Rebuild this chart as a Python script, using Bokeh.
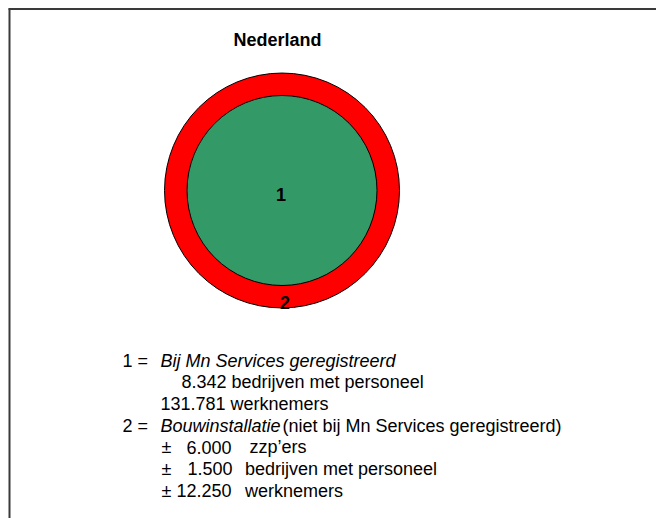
from bokeh.plotting import figure
from bokeh.models import Range1d, ColumnDataSource
from bokeh.core.properties import value
from bokeh.embed import file_html
from bokeh.resources import INLINE

# ---- data ----
title_text = "Nederland"
ring_labels = ["1", "2"]                 # 1 = inner (registered), 2 = outer ring
ring_radius = [95, 117.5]                # drawn radii (inner, outer)
ring_colors = ["#339966", "#FF0000"]

group1_name = "Bij Mn Services geregistreerd"
group1_bedrijven = "8.342"
group1_werknemers = "131.781"
group2_name = "Bouwinstallatie"
group2_note = "(niet bij Mn Services geregistreerd)"
group2_zzp = "6.000"
group2_bedrijven = "1.500"
group2_werknemers = "12.250"

FONT = value("Liberation Sans")
W, H = 656, 518
p = figure(width=W, height=H, output_backend="svg", toolbar_location=None,
           x_range=Range1d(0, W), y_range=Range1d(H, 0),
           min_border=0, outline_line_color=None)
p.axis.visible = False
p.grid.visible = False
p.background_fill_color = "white"
p.border_fill_color = "white"

# partial frame (top + left) drawn as thin filled bars
p.quad(left=[8, 8], right=[W, 10], top=[7.5, 8], bottom=[9.5, H],
       fill_color="#3a3a3a", line_color=None)

# circles
cx, cy = 281.5, 190
p.circle(x=[cx], y=[cy], radius=[ring_radius[1]], fill_color=ring_colors[1],
         line_color="black", line_width=1)
p.circle(x=[cx], y=[cy], radius=[ring_radius[0]], fill_color=ring_colors[0],
         line_color="black", line_width=1)

# labels in circles
p.text(x=[280.5, 284.5], y=[194, 302], text=ring_labels, text_font=FONT,
       text_font_size="18px", text_font_style="bold", text_align="center",
       text_baseline="alphabetic", text_color="black")

# title
p.text(x=[277], y=[39.5], text=[title_text], text_font=FONT,
       text_font_size="18px", text_font_style="bold", text_align="center",
       text_baseline="alphabetic", text_color="black")

# legend text block
lh = 21.67
base = 360
ys = [base + lh * i for i in range(7)]

normal_items = [
    (122, ys[0], "1 ="),
    (181, ys[1], group1_bedrijven + " bedrijven met personeel"),
    (160, ys[2], group1_werknemers + " werknemers"),
    (122, ys[3], "2 ="),
    (282, ys[3], group2_note),
    (161, ys[4], "±"),
    (186, ys[4], group2_zzp),
    (249, ys[4], "zzp\u2019ers"),
    (161, ys[5], "±"),
    (187, ys[5], group2_bedrijven),
    (244.5, ys[5], "bedrijven met personeel"),
    (161, ys[6], "± " + group2_werknemers),
    (244.5, ys[6], "werknemers"),
]
italic_items = [
    (160, ys[0], group1_name),
    (160, ys[3], group2_name),
]

src_n = ColumnDataSource(dict(x=[a[0] for a in normal_items], y=[a[1] for a in normal_items],
                              t=[a[2] for a in normal_items]))
src_i = ColumnDataSource(dict(x=[a[0] for a in italic_items], y=[a[1] for a in italic_items],
                              t=[a[2] for a in italic_items]))
p.text(x="x", y="y", text="t", source=src_n, text_font=FONT, text_font_size="18px",
       text_font_style="normal", text_baseline="alphabetic", text_color="black")
p.text(x="x", y="y", text="t", source=src_i, text_font=FONT, text_font_size="18px",
       text_font_style="italic", text_baseline="alphabetic", text_color="black")

open("out.html", "w").write(file_html(p, INLINE))
